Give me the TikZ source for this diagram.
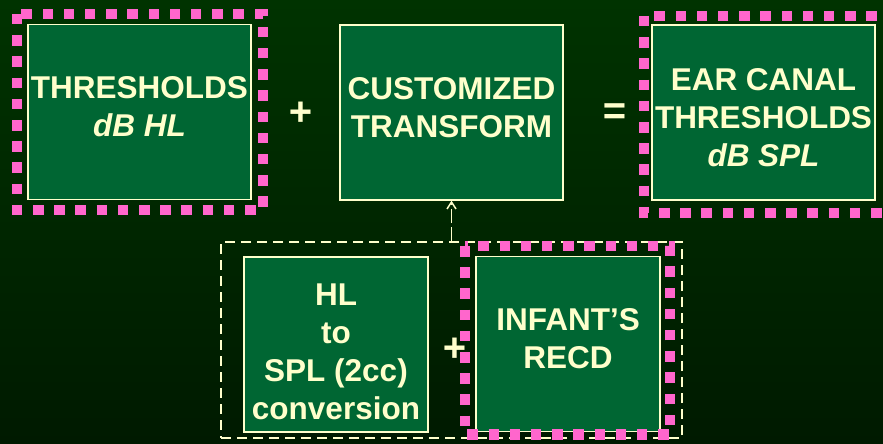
\documentclass[tikz,border=0pt]{standalone}
\usepackage{fontspec}
\setmainfont{Liberation Sans}
\usetikzlibrary{arrows.meta,positioning}
\definecolor{cream}{HTML}{FFFFCC}
\definecolor{boxgreen}{HTML}{006633}
\definecolor{hotpink}{HTML}{FF66CC}
\definecolor{bgtop}{HTML}{003300}
\definecolor{bgbot}{HTML}{001A00}

\begin{document}
\begin{tikzpicture}[x=1pt, y=-1pt,
  box/.style={draw=cream, line width=1.2pt, fill=boxgreen, text=cream, inner sep=0pt,
    minimum width=223pt, minimum height=175pt, align=center,
    font=\fontsize{31.5}{38}\selectfont\bfseries},
  smallbox/.style={box, minimum width=184pt},
  pinkframe/.style={draw=hotpink, line width=10.5pt, dash pattern=on 10.5pt off 10.7pt},
  grpbox/.style={draw=cream, line width=2pt, dash pattern=on 10pt off 6pt, minimum width=461pt, minimum height=196pt},
  op/.style={text=cream, inner sep=0pt, font=\fontsize{40}{44}\selectfont\bfseries\itshape},
  flow/.style={-{Straight Barb[length=7pt, width=9pt]}, draw=cream, line width=1.5pt, dash pattern=on 14pt off 4pt}
]
\useasboundingbox (0,0) rectangle (883,444);
\shade[top color=bgtop, bottom color=bgbot] (0,0) rectangle (883,444);

% top row
\node[box, text depth=10pt] (thr) at (139.5,112) {THRESHOLDS\\ \itshape dB HL};
\node[box, text depth=10pt] (ctf) at (451.5,112.5) {CUSTOMIZED\\ TRANSFORM};
\node[box, text height=109pt] (ear) at (763.5,112.5) {EAR CANAL\\ THRESHOLDS\\ \itshape dB SPL};
\node[op] (plus1) at (300,114) {+};
\node[op] (eq) at (614,114) {=};

% bottom group
\node[grpbox] (grp) at (451.5,340) {};
\node[smallbox, text height=150pt] (hl) at (336,344.5) {HL\\ to\\ SPL (2cc)\\ conversion};
\node[smallbox, text depth=12pt] (recd) at (568,344) {INFANT'S\\ RECD};
\node[op] (plus2) at (454,350) {+};

% pink frames
\draw[pinkframe] (17,14) rectangle (263,210);
\draw[pinkframe] (644,16) rectangle (892,213);
\draw[pinkframe] (465,246) rectangle (670,434.5);

\draw[flow] (grp.north) -- (ctf.south);
\end{tikzpicture}
\end{document}
